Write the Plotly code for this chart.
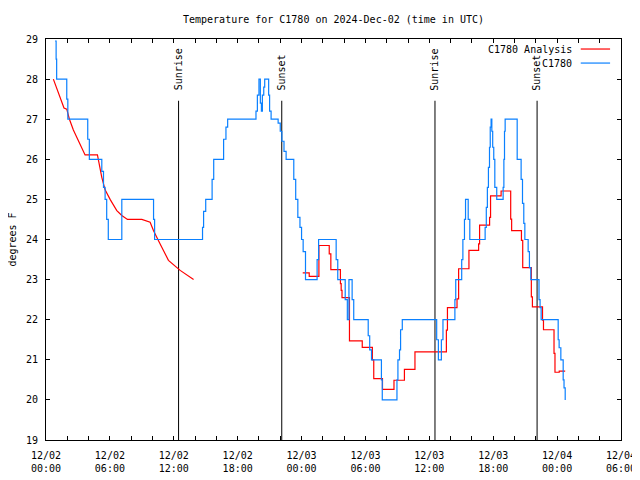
import pandas as pd
import plotly.graph_objects as go

BASE = pd.Timestamp("2024-12-02 00:00")

# Observed C1780 (hours since 12/02 00:00 UTC, deg F) - step data
blue_t = [0.85, 0.95, 1.0, 1.95, 2.05, 3.92, 4.07, 5.24, 5.4, 5.55,
          5.7, 5.85, 7.12, 10.1, 10.2, 14.7, 14.8, 15.0, 15.6, 15.75,
          16.68, 16.9, 17.06, 19.72, 19.85, 20.0, 20.13, 20.23, 20.32, 20.45,
          20.54, 20.91, 21.0, 21.14, 21.8, 22.0, 22.15, 22.35, 22.55, 23.27,
          23.45, 23.65, 23.85, 24.0, 24.15, 24.37, 25.46, 25.6, 27.25, 27.4,
          28.1, 28.3, 28.45, 28.75, 28.9, 30.26, 30.4, 30.57, 31.5, 31.58,
          32.96, 33.05, 33.2, 33.3, 33.46, 36.69, 36.85, 37.13, 37.28, 38.4,
          38.48, 39.04, 39.15, 39.3, 39.4, 39.65, 39.8, 41.24, 41.35, 41.45,
          41.55, 41.65, 41.72, 41.8, 41.87, 41.95, 42.05, 42.15, 42.33, 42.93,
          43.0, 43.06, 43.12, 44.25, 44.62, 44.75, 44.87, 44.97, 45.28, 45.4,
          45.53, 46.3, 46.4, 46.5, 48.1, 48.19, 48.35, 48.57, 48.65, 48.76]
blue_v = [28.95, 28.5, 28.0, 27.5, 27.0, 26.5, 26.0, 25.7, 25.3, 25.0,
          24.5, 24.0, 25.0, 24.5, 24.0, 24.3, 24.7, 25.0, 25.5, 26.0,
          26.5, 26.8, 27.0, 27.2, 27.6, 28.0, 27.4, 27.2, 27.6, 27.8,
          28.0, 27.6, 27.2, 27.0, 26.9, 26.7, 26.45, 26.2, 26.0, 25.5,
          25.0, 24.55, 24.3, 24.0, 23.7, 23.0, 23.5, 24.0, 23.5, 23.0,
          22.5, 22.0, 23.0, 22.5, 22.0, 21.6, 21.25, 21.0, 20.5, 20.0,
          20.5, 21.0, 21.25, 21.75, 22.0, 21.5, 21.0, 21.5, 22.0, 22.5,
          23.0, 23.5, 24.0, 24.5, 25.0, 24.5, 24.0, 24.3, 24.8, 25.3,
          25.8, 26.3, 26.8, 27.0, 26.7, 26.3, 26.0, 25.3, 25.0, 25.3,
          26.0, 26.7, 27.0, 26.0, 25.5, 24.9, 24.4, 24.0, 23.7, 23.3,
          23.0, 22.5, 22.3, 22.0, 21.5, 21.3, 21.0, 20.5, 20.3, 20.0]

# Analysis, first part (fine steps, drawn as a polyline)
red1_t = [0.69, 1.32, 1.69, 1.95, 2.2, 2.57, 3.2, 3.67, 4.83, 5.24, 5.55,
          6.02, 6.65, 7.12, 7.65, 9.0, 9.78, 10.1, 10.72, 11.5, 12.6, 13.86]
red1_v = [28.0, 27.54, 27.28, 27.25, 27.0, 26.73, 26.38, 26.11, 26.11, 25.55, 25.24,
          25.0, 24.72, 24.6, 24.5, 24.5, 24.43, 24.22, 23.89, 23.48, 23.23, 23.0]

# Analysis, second part (step data)
red2_t = [24.11, 24.72, 25.63, 26.6, 26.75, 27.65, 27.72, 27.8, 28.5, 29.7,
          30.65, 30.78, 31.6, 32.68, 33.66, 34.65, 37.6, 37.7, 38.6, 38.75,
          39.72, 40.63, 40.72, 41.66, 41.75, 42.74, 43.64, 43.73, 44.65, 44.77,
          45.58, 45.68, 46.63, 46.72, 47.71, 47.8, 48.2, 48.76]
red2_v = [23.17, 23.08, 23.85, 23.64, 23.25, 22.9, 22.73, 22.55, 21.47, 21.31,
          21.0, 20.53, 20.26, 20.49, 20.76, 21.2, 21.74, 22.3, 22.52, 23.27,
          23.73, 23.89, 24.36, 24.55, 25.09, 25.21, 24.51, 24.22, 23.98, 23.3,
          22.57, 22.32, 21.99, 21.75, 21.16, 20.69, 20.72, 20.72]

sun_t = [12.45, 22.14, 36.53, 46.12]
sun_labels = ["Sunrise", "Sunset", "Sunrise", "Sunset"]
sun_line_top = 27.46
sun_label_base = 27.66

y_range = [19, 29]
x_start_h, x_end_h = 0, 54

RED = "#ff0000"
BLUE = "#0a80ff"
FONT = "DejaVu Sans Mono"

# the page body adds an 8px offset; size the figure so the plot lands where the original's does
FIG_W, FIG_H = 632, 472


def to_dt(hours):
    return BASE + pd.to_timedelta(pd.Series(hours), unit="h")


fig = go.Figure()

fig.add_trace(go.Scatter(x=to_dt(red1_t), y=red1_v, mode="lines",
                         line=dict(color=RED, width=1.2),
                         name="C1780 Analysis", showlegend=False))
fig.add_trace(go.Scatter(x=to_dt(red2_t), y=red2_v, mode="lines",
                         line=dict(color=RED, width=1.2, shape="hv"),
                         name="C1780 Analysis", showlegend=False))
fig.add_trace(go.Scatter(x=to_dt(blue_t), y=blue_v, mode="lines",
                         line=dict(color=BLUE, width=1.2, shape="hv"),
                         name="C1780", showlegend=False))

sun_dt = to_dt(sun_t)
for d, lab in zip(sun_dt, sun_labels):
    fig.add_shape(type="line", xref="x", yref="y", x0=d, x1=d,
                  y0=y_range[0], y1=sun_line_top,
                  line=dict(color="black", width=1), layer="below")
    fig.add_annotation(x=d, y=sun_label_base, xref="x", yref="y", text=lab,
                       textangle=-90, showarrow=False, xanchor="center",
                       yanchor="bottom", font=dict(family=FONT, size=10, color="black"))

# legend (text to the left of the key line, as in the original)
legend_items = [("C1780 Analysis", RED, 0.975), ("C1780", BLUE, 0.940)]
for txt, col, yy in legend_items:
    fig.add_annotation(x=0.918, y=yy, xref="paper", yref="paper", text=txt,
                       showarrow=False, xanchor="right", yanchor="middle",
                       font=dict(family=FONT, size=10, color="black"))
    fig.add_shape(type="line", xref="paper", yref="paper", x0=0.930, x1=0.981,
                  y0=yy, y1=yy, line=dict(color=col, width=1.2))

fig.add_annotation(x=-0.059, y=0.5, xref="paper", yref="paper", text="degrees F",
                   textangle=-90, showarrow=False, xanchor="center", yanchor="middle",
                   font=dict(family=FONT, size=10, color="black"))

fig.update_layout(
    width=FIG_W, height=FIG_H,
    margin=dict(l=38, r=19, t=31, b=40, autoexpand=False),
    paper_bgcolor="white", plot_bgcolor="white",
    font=dict(family=FONT, size=10, color="black"),
    title=dict(text="Temperature for C1780 on 2024-Dec-02 (time in UTC)",
               x=0.5, xref="paper", y=1 - 11 / FIG_H, yref="container",
               xanchor="center", yanchor="middle",
               font=dict(family=FONT, size=10, color="black")),
    showlegend=False,
)

fig.update_xaxes(
    type="date", automargin=False,
    range=[BASE + pd.Timedelta(hours=x_start_h), BASE + pd.Timedelta(hours=x_end_h)],
    dtick=6 * 3600 * 1000, tick0=BASE,
    tickformat="%m/%d<br>%H:%M",
    ticks="inside", ticklen=4, tickcolor="black",
    minor=dict(dtick=2 * 3600 * 1000, ticks="inside", ticklen=4, tickcolor="black"),
    showline=True, linecolor="black", linewidth=1, mirror="ticks",
    showgrid=False, zeroline=False, ticklabelstandoff=6,
    tickfont=dict(family=FONT, size=10, color="black"),
)
fig.update_yaxes(
    range=y_range, dtick=1, tick0=19, automargin=False,
    ticks="inside", ticklen=4, tickcolor="black",
    showline=True, linecolor="black", linewidth=1, mirror="ticks",
    showgrid=False, zeroline=False, ticklabelstandoff=5,
    tickfont=dict(family=FONT, size=10, color="black"),
)

fig.write_html("out.html")
